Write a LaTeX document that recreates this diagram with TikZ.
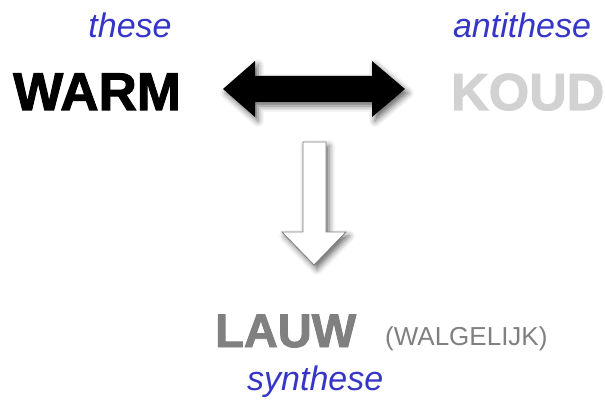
\documentclass[tikz,border=0pt]{standalone}
\usepackage{fontspec}
\setmainfont{Liberation Sans}
\newfontfamily\heavyfont[FakeBold=2]{Liberation Sans Bold}
\usetikzlibrary{shadows.blur}
\definecolor{lblue}{HTML}{3535C8}
\definecolor{koud}{HTML}{D2D2D2}
\definecolor{lauw}{HTML}{808080}
\tikzset{
  label/.style={anchor=base, inner sep=0pt, text=lblue, font=\fontsize{34}{34}\selectfont\itshape},
  big/.style={anchor=base west, inner sep=0pt, font=\fontsize{52}{52}\heavyfont},
  arrowshadow/.style={blur shadow={shadow xshift=3pt, shadow yshift=-4pt, shadow blur radius=6pt, shadow opacity=60}}
}
\begin{document}
\begin{tikzpicture}[x=1pt,y=-1pt]
\useasboundingbox (0,0) rectangle (605,401);
\node[label] (these) at (130,38) {these};
\node[label] (anti) at (522,38) {antithese};
\node[big, text=black, font=\fontsize{53}{53}\heavyfont] (warm) at (13,110) {WARM};
\node[big, text=koud] (koud) at (451,110) {KOUD};
\node[big, text=lauw, font=\fontsize{47}{47}\heavyfont] (lauw) at (215,347) {LAUW};
\node[anchor=base west, inner sep=0pt, text=lauw, font=\fontsize{26}{26}\selectfont] (walg) at (385,345) {(WALGELIJK)};
\node[label, anchor=base west] (syn) at (247,390) {synthese};
% double arrow
\fill[black, arrowshadow] (223,89) -- (255,61) -- (255,76) -- (372,76) -- (372,61) -- (405,89)
  -- (372,117) -- (372,102) -- (255,102) -- (255,117) -- cycle;
% down arrow
\draw[fill=white, draw=gray, line width=0.8pt, arrowshadow] (303,142) -- (326,142) -- (326,232) -- (346,232)
  -- (314,265) -- (282,232) -- (303,232) -- cycle;
\end{tikzpicture}
\end{document}
